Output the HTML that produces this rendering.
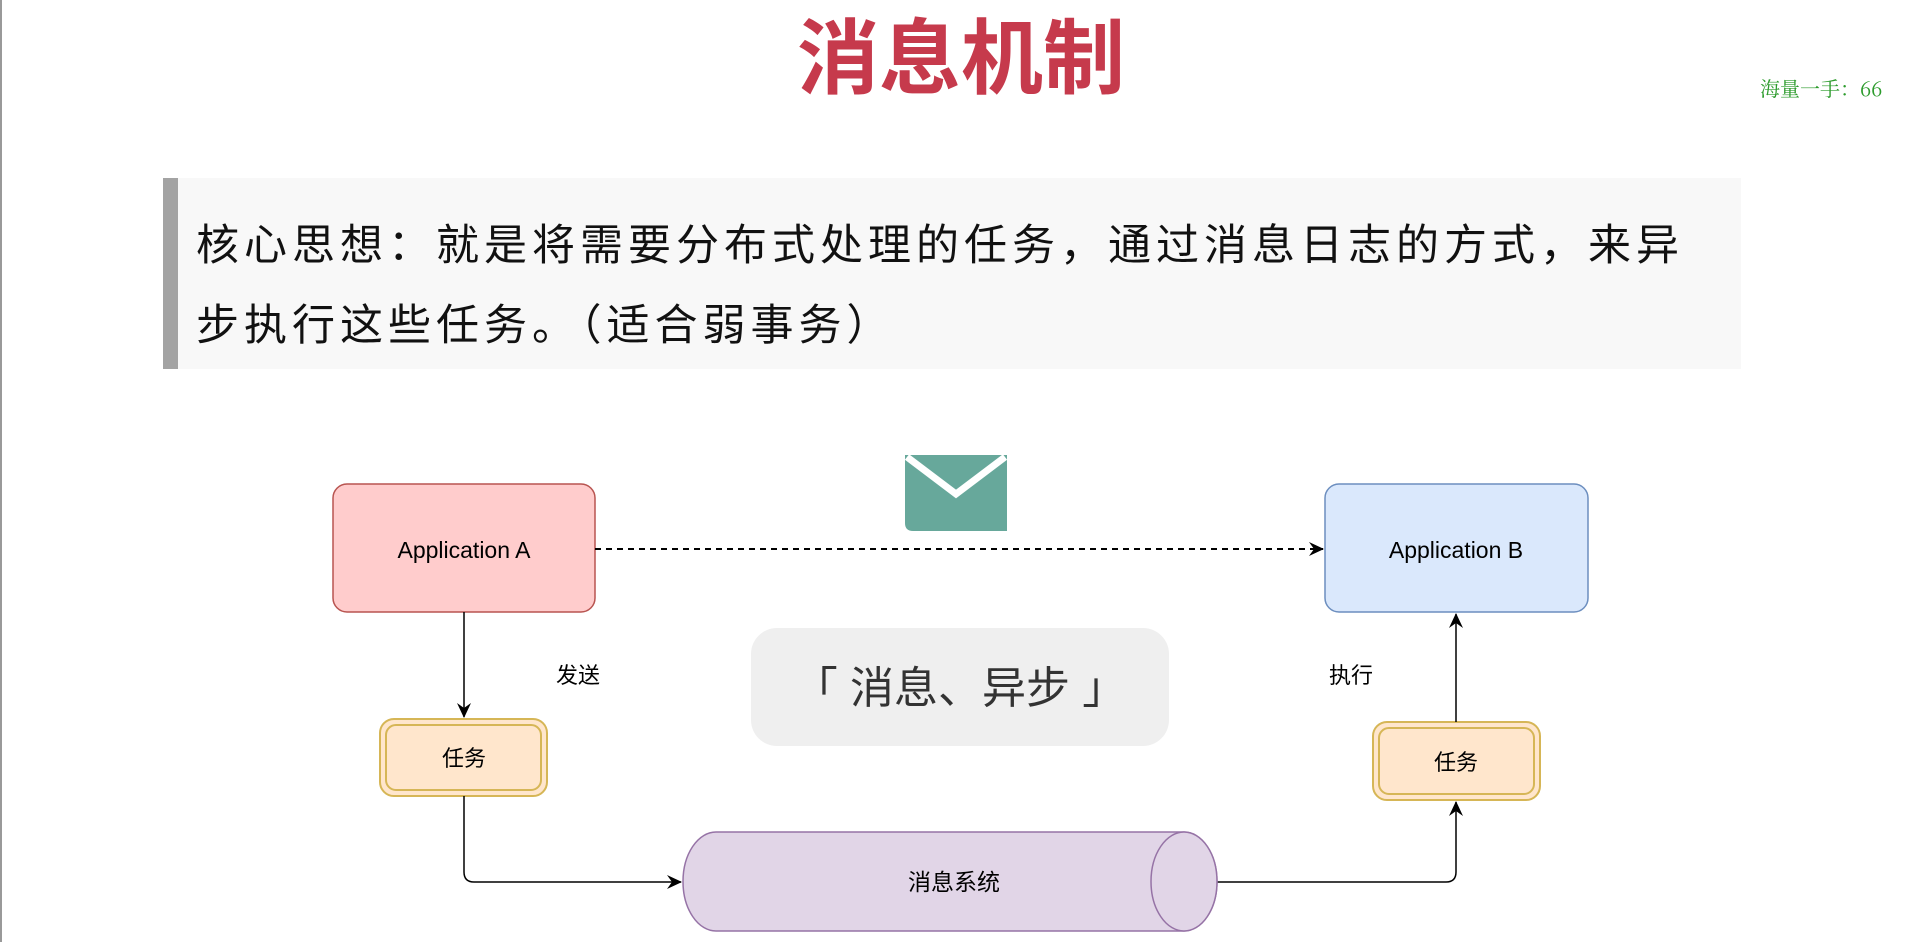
<!DOCTYPE html>
<html><head><meta charset="utf-8"><style>
html,body{margin:0;padding:0;background:#fff;width:1920px;height:942px;overflow:hidden;position:relative;font-family:"Liberation Sans","Noto Sans CJK SC",sans-serif;}
.abs{position:absolute;}
</style></head><body>
<div class="abs" style="left:0;top:0;width:2px;height:942px;background:#999"></div>
<div class="abs" style="left:761px;top:2px;width:400px;text-align:center;font-size:82px;font-weight:bold;color:#c63a4c;line-height:100px;font-family:'Noto Sans CJK SC',sans-serif;">消息机制</div>
<div class="abs" style="left:1760px;top:73px;font-size:20px;color:#2c9b2c;white-space:nowrap;font-family:'Noto Serif CJK SC',serif;">海量一手：66</div>
<div class="abs" style="left:163px;top:178px;width:1578px;height:191px;background:#f8f8f8;"></div>
<div class="abs" style="left:163px;top:178px;width:15px;height:191px;background:#a3a3a3;"></div>
<div class="abs" style="left:196px;top:206px;font-size:43px;letter-spacing:5px;line-height:80px;color:#111;width:1545px;white-space:nowrap;">核心思想：就是将需要分布式处理的任务，通过消息日志的方式，来异<br>步执行这些任务。（适合弱事务）</div>
<svg class="abs" style="left:0;top:0" width="1920" height="942">
<defs><marker id="ar" markerWidth="16" markerHeight="16" refX="14" refY="8" orient="auto" markerUnits="userSpaceOnUse"><path d="M0,1 L15,8 L0,15 L5,8 Z" fill="#000"/></marker></defs>
<path d="M905,455 H1007 V531 H913 Q905,531 905,523 Z" fill="#67a89b"/>
<path d="M907,457 L956,494 L1005,457" fill="none" stroke="#fff" stroke-width="7"/>
<rect x="333" y="484" width="262" height="128" rx="14" fill="#ffcccc" stroke="#b85450" stroke-width="1.5"/>
<text x="464" y="558" font-size="23" text-anchor="middle" fill="#000">Application A</text>
<rect x="1325" y="484" width="263" height="128" rx="14" fill="#dae8fc" stroke="#6c8ebf" stroke-width="1.5"/>
<text x="1456" y="558" font-size="23" text-anchor="middle" fill="#000">Application B</text>
<line x1="595" y1="549" x2="1323" y2="549" stroke="#000" stroke-width="2" stroke-dasharray="6,5" marker-end="url(#ar)"/>
<line x1="464" y1="612" x2="464" y2="717" stroke="#000" stroke-width="1.5" marker-end="url(#ar)"/>
<text x="578" y="683" font-size="22" text-anchor="middle">发送</text>
<text x="1351" y="683" font-size="22" text-anchor="middle">执行</text>
<rect x="380" y="719" width="167" height="77" rx="14" fill="#ffe6cc" stroke="#d6b656" stroke-width="2"/>
<rect x="386" y="725" width="155" height="65" rx="10" fill="none" stroke="#d6b656" stroke-width="2"/>
<text x="464" y="766" font-size="22" text-anchor="middle">任务</text>
<rect x="1373" y="722" width="167" height="78" rx="14" fill="#ffe6cc" stroke="#d6b656" stroke-width="2"/>
<rect x="1379" y="728" width="155" height="66" rx="10" fill="none" stroke="#d6b656" stroke-width="2"/>
<text x="1456" y="770" font-size="22" text-anchor="middle">任务</text>
<rect x="751" y="628" width="418" height="118" rx="26" fill="#efefef"/>
<text x="960" y="703" font-size="44" text-anchor="middle" fill="#333">「 消息、异步 」</text>
<line x1="1456" y1="722" x2="1456" y2="614" stroke="#000" stroke-width="1.5" marker-end="url(#ar)"/>
<path d="M464,796 V872 Q464,882 474,882 H681" fill="none" stroke="#000" stroke-width="1.5" marker-end="url(#ar)"/>
<path d="M1217,882 H1446 Q1456,882 1456,872 V802" fill="none" stroke="#000" stroke-width="1.5" marker-end="url(#ar)"/>
<path d="M716,832 H1184 A33,49.5 0 0 1 1184,931 H716 A33,49.5 0 0 1 716,832 Z" fill="#e1d5e7" stroke="#9673a6" stroke-width="1.5"/>
<ellipse cx="1184" cy="881.5" rx="33" ry="49.5" fill="#e1d5e7" stroke="#9673a6" stroke-width="1.5"/>
<text x="954" y="890" font-size="23" text-anchor="middle">消息系统</text>
</svg>
</body></html>
